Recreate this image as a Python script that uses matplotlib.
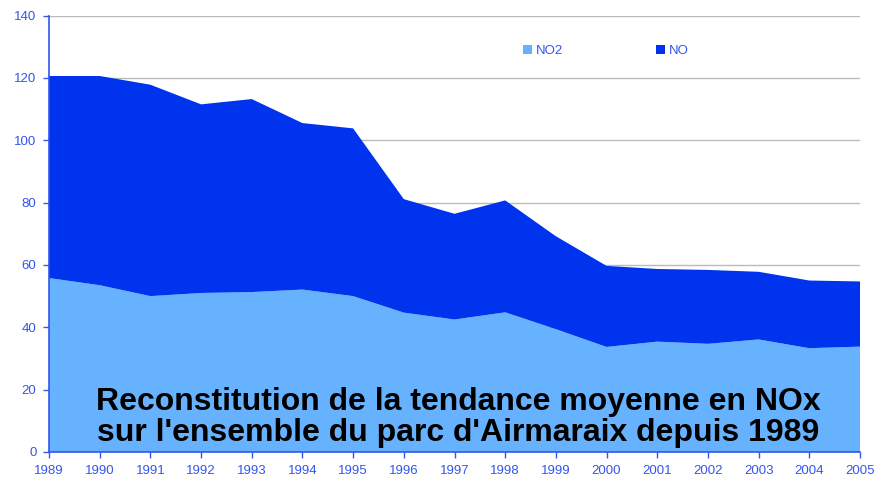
import numpy as np
import matplotlib
matplotlib.use("Agg")
import matplotlib.pyplot as plt
import matplotlib.ticker as ticker

plt.rcParams["font.family"] = ["Liberation Sans", "DejaVu Sans"]

years = list(range(1989, 2006))
no2 = [55.8, 53.5, 50.0, 51.0, 51.3, 52.1, 50.0, 44.7, 42.5, 44.8,
       39.4, 33.7, 35.4, 34.7, 36.1, 33.3, 33.8]
total = [120.6, 120.6, 117.8, 111.5, 113.2, 105.5, 103.8, 81.1, 76.4, 80.7,
         69.2, 59.7, 58.7, 58.4, 57.8, 55.0, 54.7]
no = [t - a for t, a in zip(total, no2)]

title_lines = ["Reconstitution de la tendance moyenne en NOx",
               "sur l'ensemble du parc d'Airmaraix depuis 1989"]

C_NO2 = "#66B2FF"
C_NO = "#0033EE"
C_TXT = "#3355EE"

fig = plt.figure(figsize=(8.76, 4.78), dpi=100)
ax = fig.add_axes([49 / 876, 26 / 478, 811 / 876, 436.5 / 478])

ax.stackplot(years, no2, no, colors=[C_NO2, C_NO], labels=["NO2", "NO"], lw=0)

ax.set_xlim(1989, 2005)
ax.set_ylim(0, 140)
ax.yaxis.set_major_locator(ticker.MultipleLocator(20))
ax.xaxis.set_major_locator(ticker.MultipleLocator(1))
ax.grid(axis="y", color="#BBBBBB", lw=1)
ax.set_axisbelow(True)

for s in ["top", "right"]:
    ax.spines[s].set_visible(False)
for s in ["left", "bottom"]:
    ax.spines[s].set_color(C_TXT)
    ax.spines[s].set_linewidth(1.2)
ax.tick_params(colors=C_TXT, labelsize=9.5, length=4, width=1)
ax.tick_params(axis="x", pad=5)
ax.tick_params(axis="y", pad=5)

leg = ax.legend(loc="upper left", bbox_to_anchor=(0.57, 0.96), ncol=2,
                frameon=False, fontsize=9.5, handlelength=0.7, handleheight=0.7,
                handletextpad=0.3, columnspacing=7)
for t in leg.get_texts():
    t.set_color(C_TXT)

ax.text(0.505, 0.08, "\n".join(title_lines), transform=ax.transAxes,
        ha="center", va="center", fontsize=23, fontweight="bold",
        color="black", linespacing=1.05)

fig.savefig("out.png", dpi=100)
